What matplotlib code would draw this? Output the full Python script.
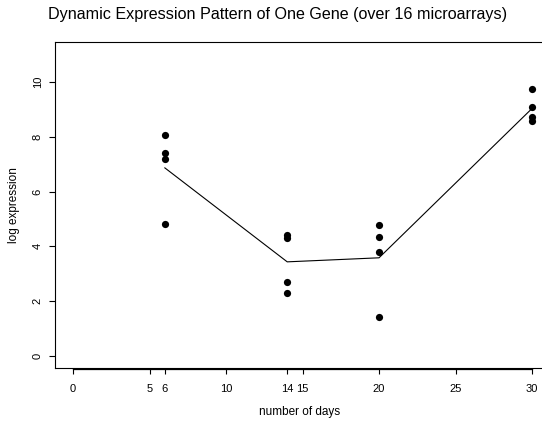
import numpy as np
import matplotlib
matplotlib.use("Agg")
import matplotlib.pyplot as plt
import matplotlib.transforms as mtransforms

plt.rcParams['font.family'] = ['Liberation Sans', 'DejaVu Sans']

# expression values, 4 arrays per time point
days = [6, 14, 20, 30]
expr = [
    [8.07, 7.40, 7.18, 4.81],
    [4.42, 4.30, 2.71, 2.31],
    [4.78, 4.33, 3.81, 1.41],
    [9.73, 9.10, 8.71, 8.59],
]
xticks = [0, 5, 6, 10, 14, 15, 20, 25, 30]
yticks = [0, 2, 4, 6, 8, 10]

W, H = 542, 421
fig = plt.figure(figsize=(W / 100, H / 100), dpi=100)
# axes box in pixels: left 55, right (off image) 545, top 42, bottom 368
ax = fig.add_axes([55 / W, (H - 368) / H, (545 - 55) / W, (368 - 42) / H])

for d, vals in zip(days, expr):
    ax.plot([d] * len(vals), vals, 'o', color='black', markersize=5.2,
            markeredgewidth=0, clip_on=False)

means = [np.mean(v) for v in expr]
ax.plot(days, means, '-', color='black', lw=0.8)

ax.set_xlim(-1.18, 30.85)
ax.set_ylim(-0.44, 11.46)

ax.spines['right'].set_visible(False)
for s in ['left', 'top', 'bottom']:
    ax.spines[s].set_linewidth(0.8)

ax.set_xticks(xticks)
ax.set_xticklabels([str(t) for t in xticks], fontsize=8)
ax.set_yticks(yticks)
ax.set_yticklabels([str(t) for t in yticks], fontsize=8, rotation=90, va='center')
ax.tick_params(axis='x', direction='out', length=4, width=0.8, pad=7.5)
ax.tick_params(axis='y', direction='out', length=4.3, width=0.8, pad=4.5)

# separate R-style x axis line under the box
trans = mtransforms.blended_transform_factory(ax.transData, ax.transAxes)
ax.plot([0, 30], [-0.004, -0.004], color='black', lw=0.9, transform=trans, clip_on=False)

ax.set_xlabel('number of days', fontsize=8.5, labelpad=9)
ax.set_ylabel('log expression', fontsize=8.5, labelpad=9)

fig.text(278 / W, 1 - 15 / H, 'Dynamic Expression Pattern of One Gene (over 16 microarrays)',
         ha='center', va='center', fontsize=11.6)

fig.savefig('out.png', dpi=100)
